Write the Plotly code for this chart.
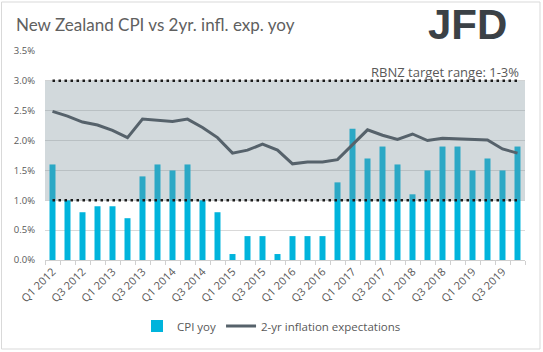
import plotly.graph_objects as go

quarters = [f"Q{q} {y}" for y in range(2012, 2020) for q in (1, 2, 3, 4)]
cpi_yoy = [1.6, 1.0, 0.8, 0.9, 0.9, 0.7, 1.4, 1.6, 1.5, 1.6, 1.0, 0.8,
           0.1, 0.4, 0.4, 0.1, 0.4, 0.4, 0.4, 1.3, 2.2, 1.7, 1.9, 1.6,
           1.1, 1.5, 1.9, 1.9, 1.5, 1.7, 1.5, 1.9]
infl_exp_2yr = [2.49, 2.41, 2.31, 2.26, 2.17, 2.05, 2.36, 2.34, 2.32, 2.36, 2.22, 2.05,
                1.79, 1.84, 1.94, 1.84, 1.61, 1.64, 1.64, 1.68, 1.93, 2.18, 2.09, 2.02,
                2.11, 2.00, 2.04, 2.03, 2.03, 2.01, 1.86, 1.79]
target_low = 1.0
target_high = 3.0
tick_labels = [q if q.startswith(("Q1", "Q3")) else "" for q in quarters]

n = len(quarters)
idx = list(range(n))
FONT = "Open Sans"
GREY = "#595959"

fig = go.Figure()
fig.add_trace(go.Bar(x=idx, y=cpi_yoy, name="CPI yoy", marker_color="#00B4DC",
                     marker_line_width=0))
# target band (semi-transparent, above bars)
fig.add_trace(go.Scatter(x=[-0.5, n - 0.5, n - 0.5, -0.5, -0.5],
                         y=[target_low, target_low, target_high, target_high, target_low],
                         fill="toself", fillcolor="rgba(125,145,153,0.345)",
                         mode="lines", line=dict(width=0), showlegend=False,
                         hoverinfo="skip"))
for lvl in (target_low, target_high):
    fig.add_trace(go.Scatter(x=idx, y=[lvl] * n, mode="lines",
                             line=dict(color="#1a1a1a", width=2.5, dash="2.5px,3.5px"),
                             showlegend=False, hoverinfo="skip"))
fig.add_trace(go.Scatter(x=idx, y=infl_exp_2yr, mode="lines",
                         name="2-yr inflation expectations",
                         line=dict(color="#56626B", width=3)))

L, R, T, B = 45, 18, 51, 92
W, H = 543, 352
pw, ph = W - L - R, H - T - B

def px_x(x):
    return (x - L) / pw

def px_y(y):
    return (H - B - y) / ph

fig.update_layout(
    width=W, height=H,
    margin=dict(l=L, r=R, t=T, b=B),
    paper_bgcolor="white", plot_bgcolor="white",
    font=dict(family=FONT, color=GREY, size=11),
    bargap=0.6,
    title=dict(text="New Zealand CPI vs 2yr. infl. exp. yoy",
               x=16 / W, xanchor="left", xref="container",
               y=1 - 25 / H, yanchor="middle", yref="container",
               font=dict(family="Lato", size=17, color="#606060")),
    legend=dict(orientation="h", xref="container", x=0.5, xanchor="center",
                yref="container", y=1 - 326 / H, yanchor="middle",
                font=dict(size=11.5, color=GREY), itemwidth=30,
                traceorder="normal"),
    xaxis=dict(range=[-0.5, n - 0.5], tickmode="array", tickvals=idx,
               ticktext=tick_labels, tickangle=-45, ticks="",
               showgrid=False, zeroline=False, showline=True, automargin=False,
               linecolor="#D0D0D0", linewidth=1,
               tickfont=dict(size=11, color=GREY),
               minor=dict(tickmode="linear", tick0=-0.5, dtick=1, ticks="outside",
                          ticklen=4, tickcolor="#D0D0D0", showgrid=False)),
    yaxis=dict(range=[0, 3.5], dtick=0.5, tickformat=".1f", ticksuffix="%",
               showgrid=True, gridcolor="#D9D9D9", gridwidth=1, automargin=False,
               zeroline=False, showline=False, ticks="", ticklabelstandoff=9,
               tickfont=dict(size=9.5, color=GREY)),
    showlegend=True,
)

fig.add_annotation(text="RBNZ target range: 1-3%", xref="paper", yref="paper",
                   x=px_x(521), y=px_y(72), xanchor="right", yanchor="middle",
                   showarrow=False, font=dict(family=FONT, size=13, color=GREY))
fig.add_annotation(text="<b>JFD</b>", xref="paper", yref="paper",
                   x=px_x(509), y=px_y(24), xanchor="right", yanchor="middle",
                   showarrow=False,
                   font=dict(family="Liberation Sans", size=42, color="#3B4146"))
fig.add_shape(type="rect", xref="paper", yref="paper",
              x0=px_x(1.5), x1=px_x(540), y0=px_y(349), y1=px_y(2),
              line=dict(color="#D9D9D9", width=1), fillcolor="rgba(0,0,0,0)",
              layer="below")

fig.write_html("out.html")
